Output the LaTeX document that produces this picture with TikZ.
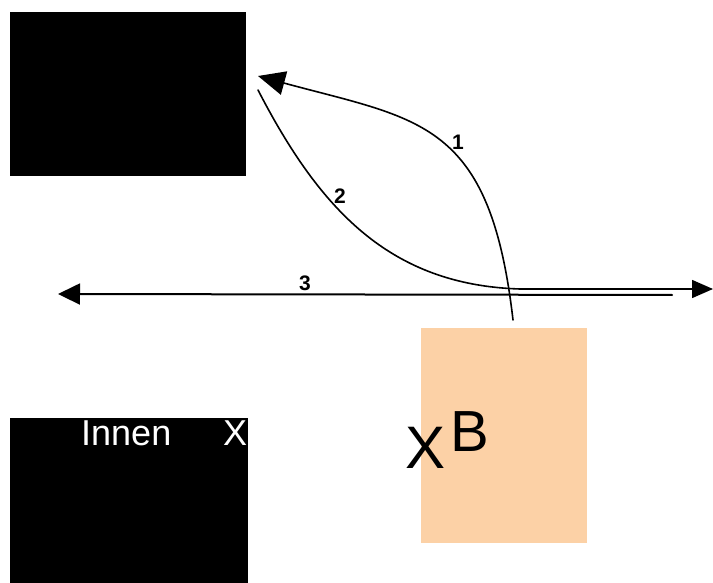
\documentclass[tikz,border=0pt]{standalone}
\usepackage{fontspec}
\setmainfont{Liberation Sans}
\usetikzlibrary{arrows.meta,positioning}
\definecolor{peach}{RGB}{252,209,166}

\begin{document}
\begin{tikzpicture}[x=1pt,y=-1pt,
    blackbox/.style={fill=black, draw=none, inner sep=0pt, anchor=north west},
    route/.style={line width=1.6pt, line cap=round},
    numlabel/.style={font=\fontsize{21}{23}\selectfont\bfseries, inner sep=0pt}]
    \useasboundingbox (0,0) rectangle (713,583);
    % boxes
    \node[blackbox, minimum width=236pt, minimum height=164pt] (upper) at (10,12) {};
    \node[blackbox, minimum width=238pt, minimum height=165pt] (inner) at (10,418) {};
    \node[fill=peach, inner sep=0pt, anchor=north west, minimum width=166pt, minimum height=215pt] (bbox) at (421,328) {};
    \node[text=white, font=\fontsize{36}{40}\selectfont, anchor=base west, inner sep=0pt] (innen) at (81,445) {Innen};
    \node[text=white, font=\fontsize{36}{40}\selectfont, anchor=base west, inner sep=0pt] (xin) at (223,445) {X};
    \node[font=\fontsize{60}{64}\selectfont, anchor=base west, inner sep=0pt] (xb) at (405,468) {X};
    \node[font=\fontsize{58}{62}\selectfont, anchor=base west, inner sep=0pt] (bb) at (450,451) {B};
    % route ends
    \coordinate (tipone) at (258,76);
    \coordinate (startone) at (513,320);
    \coordinate (starttwo) at (258,90);
    \coordinate (bendtwo) at (520,289);
    \coordinate (tiptwo) at (713,289);
    \coordinate (startthree) at (672,295);
    \coordinate (tipthree) at (58,294);
    \draw[route, -{Triangle[length=27pt,width=24pt]}] (startone) .. controls (490,120) and (420,120) .. (tipone);
    \draw[route, -{Triangle[length=21pt,width=18pt]}] (starttwo) .. controls (320,210) and (390,285) .. (bendtwo) -- (tiptwo);
    \draw[route, line width=2pt, -{Triangle[length=22pt,width=21pt]}] (startthree) -- (tipthree);
    \node[numlabel] (one) at (458,142) {1};
    \node[numlabel] (two) at (340,196) {2};
    \node[numlabel] (three) at (305,283) {3};
\end{tikzpicture}
\end{document}
